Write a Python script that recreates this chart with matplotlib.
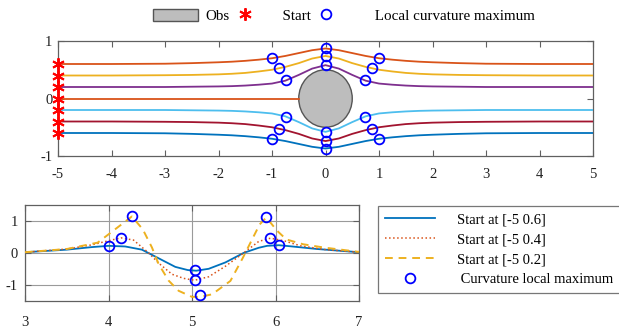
import numpy as np
import matplotlib.pyplot as plt
from matplotlib.patches import Circle, Patch
from matplotlib.lines import Line2D

plt.rcParams['font.family'] = ['Liberation Serif', 'DejaVu Serif']
plt.rcParams['axes.unicode_minus'] = False

# ---- top panel: paths around the obstacle ----
path_x = [-5, -4, -3, -2.5, -2, -1.75, -1.5, -1.25, -1, -0.75, -0.5, -0.25, 0,
          0.25, 0.5, 0.75, 1, 1.25, 1.5, 1.75, 2, 2.5, 3, 4, 5]
path_p06 = [0.60, 0.60, 0.605, 0.615, 0.63, 0.64, 0.655, 0.675, 0.70, 0.74, 0.79, 0.84, 0.87,
            0.84, 0.79, 0.74, 0.70, 0.675, 0.655, 0.64, 0.63, 0.615, 0.605, 0.60, 0.60]
path_p04 = [0.40, 0.40, 0.405, 0.41, 0.42, 0.43, 0.445, 0.47, 0.50, 0.55, 0.615, 0.695, 0.74,
            0.695, 0.615, 0.55, 0.50, 0.47, 0.445, 0.43, 0.42, 0.41, 0.405, 0.40, 0.40]
path_p02 = [0.20, 0.20, 0.20, 0.205, 0.21, 0.215, 0.225, 0.24, 0.26, 0.31, 0.41, 0.52, 0.58,
            0.52, 0.41, 0.31, 0.26, 0.24, 0.225, 0.215, 0.21, 0.205, 0.20, 0.20, 0.20]
path_m02 = [-0.20, -0.20, -0.20, -0.205, -0.21, -0.215, -0.225, -0.24, -0.26, -0.31, -0.41, -0.52, -0.58,
            -0.52, -0.41, -0.31, -0.26, -0.24, -0.225, -0.215, -0.21, -0.205, -0.20, -0.20, -0.20]
path_m04 = [-0.40, -0.40, -0.405, -0.41, -0.42, -0.43, -0.445, -0.47, -0.50, -0.55, -0.615, -0.695, -0.74,
            -0.695, -0.615, -0.55, -0.50, -0.47, -0.445, -0.43, -0.42, -0.41, -0.405, -0.40, -0.40]
path_m06 = [-0.60, -0.60, -0.605, -0.615, -0.63, -0.64, -0.655, -0.675, -0.70, -0.74, -0.79, -0.84, -0.87,
            -0.84, -0.79, -0.74, -0.70, -0.675, -0.655, -0.64, -0.63, -0.615, -0.605, -0.60, -0.60]
mid_x = [-5, -0.5]
mid_y = [0, 0]

start_y = [0.6, 0.4, 0.2, 0, -0.2, -0.4, -0.6]
top_max_x = [-1.0, 0, 1.0, -0.86, 0, 0.86, -0.74, 0, 0.74,
             -0.74, 0, 0.74, -0.86, 0, 0.86, -1.0, 0, 1.0]
top_max_y = [0.70, 0.87, 0.70, 0.525, 0.74, 0.525, 0.32, 0.58, 0.32,
             -0.32, -0.58, -0.32, -0.525, -0.74, -0.525, -0.70, -0.87, -0.70]
obs_center = (0, 0)
obs_radius = 0.5

# ---- bottom panel: curvature ----
k06_x = [3, 3.5, 3.8, 4.0, 4.2, 4.4, 4.6, 4.8, 4.95, 5.05, 5.2, 5.4, 5.62, 5.8, 5.9, 6.04, 6.2, 6.5, 7]
k06_y = [0.02, 0.1, 0.18, 0.22, 0.2, 0.1, -0.17, -0.44, -0.54, -0.56, -0.5, -0.3, 0.0, 0.16, 0.22, 0.24, 0.2, 0.12, 0.02]
k04_x = [3, 3.5, 3.8, 4.0, 4.15, 4.3, 4.48, 4.6, 4.76, 4.9, 5.03, 5.2, 5.4, 5.62, 5.8, 5.94, 6.1, 6.3, 6.6, 7]
k04_y = [0.02, 0.12, 0.25, 0.38, 0.47, 0.4, 0.0, -0.32, -0.67, -0.8, -0.86, -0.75, -0.42, 0.0, 0.36, 0.46, 0.38, 0.22, 0.1, 0.02]
k02_x = [3, 3.5, 3.87, 4.08, 4.28, 4.41, 4.52, 4.6, 4.72, 4.84, 5.0, 5.1, 5.24, 5.46, 5.61, 5.71, 5.81,
         5.89, 6.02, 6.13, 6.33, 6.57, 7]
k02_y = [0.02, 0.12, 0.32, 0.74, 1.14, 0.74, 0.17, -0.35, -0.87, -1.19, -1.38, -1.38, -1.3, -0.88, -0.15,
         0.37, 0.89, 1.11, 0.69, 0.42, 0.27, 0.17, 0.03]
bot_max_x = [4.01, 5.04, 6.04, 4.15, 5.04, 5.94, 4.28, 5.09, 5.89]
bot_max_y = [0.22, -0.54, 0.24, 0.47, -0.86, 0.46, 1.14, -1.33, 1.11]

blue = '#0072BD'
orange = '#D95319'
yellow = '#EDB120'
purple = '#7E2F8E'
cyan = '#4DBEEE'
darkred = '#A2142F'
axcol = '#606060'

fig = plt.figure(figsize=(6.19, 3.33), dpi=100)
ax1 = fig.add_axes([58 / 619, 1 - 156 / 333, 535 / 619, 115 / 333])
ax2 = fig.add_axes([25 / 619, 1 - 300.7 / 333, 334 / 619, 95.7 / 333])

ax1.add_patch(Circle(obs_center, obs_radius, facecolor='#bdbdbd', edgecolor='#555555', lw=1, zorder=2))
for ys, c in [(path_p06, orange), (path_p04, yellow), (path_p02, purple),
              (path_m02, cyan), (path_m04, darkred), (path_m06, blue)]:
    ax1.plot(path_x, ys, color=c, lw=1.3, zorder=3)
ax1.plot(mid_x, mid_y, color=orange, lw=1.3, zorder=3)
ax1.plot([-5] * len(start_y), start_y, ls='none', marker=(6, 2, 0), ms=9, color='red',
         mew=1.4, clip_on=False, zorder=5)
ax1.plot(top_max_x, top_max_y, ls='none', marker='o', ms=7, mfc='none', mec='blue', mew=1.3, zorder=4)
ax1.set_xlim(-5, 5)
ax1.set_ylim(-1, 1)
ax1.set_xticks(range(-5, 6))
ax1.set_yticks([-1, 0, 1])

ax2.plot(k06_x, k06_y, color=blue, lw=1.3, zorder=3)
ax2.plot(k04_x, k04_y, color=orange, lw=1.1, ls=':', zorder=3)
ax2.plot(k02_x, k02_y, color=yellow, lw=1.4, ls=(0, (4, 3)), zorder=3)
ax2.plot(bot_max_x, bot_max_y, ls='none', marker='o', ms=7, mfc='none', mec='blue', mew=1.3,
         zorder=4, clip_on=False)
ax2.set_xlim(3, 7)
ax2.set_ylim(-1.5, 1.5)
ax2.set_xticks([3, 4, 5, 6, 7])
ax2.set_yticks([-1, 0, 1])
ax2.grid(True, color='#9a9a9a', lw=0.8)
ax2.set_axisbelow(True)

for ax in (ax1, ax2):
    for s in ax.spines.values():
        s.set_color(axcol)
        s.set_linewidth(0.9)
    ax.tick_params(direction='in', top=True, right=True, length=4, color=axcol,
                   labelsize=10.5, labelcolor='#222222')
ax1.tick_params(axis='x', pad=9)
ax1.tick_params(axis='y', pad=4)
ax2.tick_params(axis='x', pad=11)
ax2.tick_params(axis='y', pad=5)

top_handles = [Patch(facecolor='#bdbdbd', edgecolor='#555555'),
               Line2D([], [], ls='none', marker=(6, 2, 0), ms=9, color='red', mew=1.4),
               Line2D([], [], ls='none', marker='o', ms=7, mfc='none', mec='blue', mew=1.3)]
fig.legend(top_handles, ['Obs', '  Start', '     Local curvature maximum'],
           loc='center left', bbox_to_anchor=(147 / 619, 0.952), ncol=3, frameon=False,
           fontsize=10.8, handlelength=3, handleheight=0.9, handletextpad=0.5, columnspacing=-0.5,
           borderaxespad=0)

bot_handles = [Line2D([], [], color=blue, lw=1.3),
               Line2D([], [], color=orange, lw=1.1, ls=':'),
               Line2D([], [], color=yellow, lw=1.4, ls=(0, (4, 3))),
               Line2D([], [], ls='none', marker='o', ms=7, mfc='none', mec='blue', mew=1.3)]
leg = fig.legend(bot_handles, ['Start at [-5 0.6]', 'Start at [-5 0.4]', 'Start at [-5 0.2]',
                               ' Curvature local maximum'],
                 loc='upper left', bbox_to_anchor=(378 / 619, 1 - 206 / 333), fontsize=10.5,
                 handlelength=3.4, handletextpad=1.5, labelspacing=0.45, borderpad=0.5,
                 borderaxespad=0, fancybox=False, edgecolor='#777777', framealpha=1)
leg.get_frame().set_linewidth(0.9)

fig.savefig('out.png', dpi=100)
